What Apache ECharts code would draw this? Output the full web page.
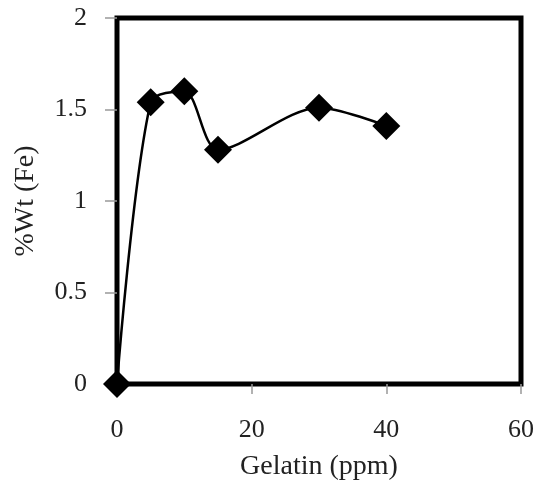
<!DOCTYPE html>
<html>
<head>
<meta charset="utf-8">
<script src="https://cdn.jsdelivr.net/npm/echarts@6/dist/echarts.min.js"></script>
<style>
  html, body { margin: 0; padding: 0; background: #fff; }
  #chart { width: 541px; height: 486px; }
</style>
</head>
<body>
<div id="chart"></div>
<script>
// gelatin concentration (ppm) vs Fe content (%Wt)
const gelatin = [0, 5, 10, 15, 30, 40];
const feWt = [0, 1.54, 1.6, 1.28, 1.51, 1.41];

const points = gelatin.map((g, i) => [g, feWt[i]]);
const serif = "'Liberation Serif', 'DejaVu Serif', serif";

const chart = echarts.init(document.getElementById("chart"));
chart.setOption({
  animation: false,
  grid: {
    left: 117,
    right: 20,
    top: 18,
    bottom: 102,
    show: true,
    borderColor: "#000",
    borderWidth: 5,
  },
  xAxis: {
    type: "value",
    min: 0,
    max: 60,
    interval: 20,
    name: "Gelatin (ppm)",
    nameLocation: "middle",
    nameGap: 69,
    nameTextStyle: { fontFamily: serif, fontSize: 28, color: "#222" },
    axisLine: { show: false },
    axisTick: { show: true, length: 10, lineStyle: { color: "#999", width: 1.5 } },
    axisLabel: { fontFamily: serif, fontSize: 26, color: "#222", margin: 33 },
    splitLine: { show: false },
  },
  yAxis: {
    type: "value",
    min: 0,
    max: 2,
    interval: 0.5,
    name: "%Wt (Fe)",
    nameLocation: "middle",
    nameGap: 77,
    nameTextStyle: { fontFamily: serif, fontSize: 28, color: "#222" },
    axisLine: { show: false },
    axisTick: { show: true, length: 12, lineStyle: { color: "#999", width: 1.5 } },
    axisLabel: { fontFamily: serif, fontSize: 26, color: "#222", margin: 30 },
    splitLine: { show: false },
  },
  series: [
    {
      type: "line",
      data: points,
      smooth: 0.3,
      clip: false,
      symbol: "diamond",
      symbolSize: [28, 28],
      itemStyle: { color: "#000" },
      lineStyle: { color: "#000", width: 2.5 },
      z: 5,
    },
  ],
});
</script>
</body>
</html>
